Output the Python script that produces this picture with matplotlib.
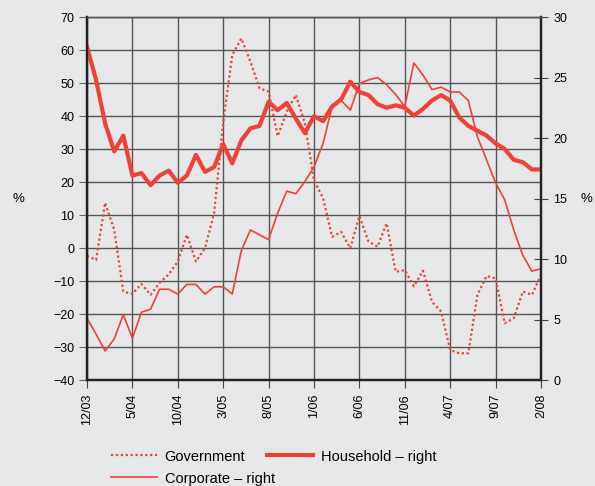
import matplotlib
matplotlib.use("Agg")
import matplotlib.pyplot as plt

plt.rcParams["font.family"] = ["Liberation Sans", "DejaVu Sans"]

# monthly, 12/03 .. 2/08
months = list(range(51))
tick_pos = list(range(0, 51, 5))
tick_labels = ["12/03", "5/04", "10/04", "3/05", "8/05", "1/06",
               "6/06", "11/06", "4/07", "9/07", "2/08"]

government = [-2.4, -3.6, 13.7, 5.5, -13.2, -13.9, -10.9, -14.2, -10.5, -8.0,
              -4.1, 4.0, -4.1, 0.0, 10.5, 38.0, 58.5, 63.5, 56.5, 48.4,
              47.4, 33.9, 41.3, 46.4, 37.8, 20.5, 15.1, 3.4, 4.9, -0.1,
              9.7, 2.0, 0.4, 7.5, -7.2, -6.7, -11.6, -6.9, -16.3, -19.3,
              -30.9, -31.9, -31.9, -14.2, -8.5, -9.2, -22.8, -21.3, -13.2, -14.2,
              -8.2]

household = [27.55, 24.8, 21.2, 18.9, 20.2, 16.9, 17.1, 16.1, 16.9, 17.3,
             16.3, 16.9, 18.6, 17.2, 17.6, 19.5, 17.9, 19.8, 20.8, 21.0,
             23.0, 22.3, 22.9, 21.6, 20.4, 21.8, 21.4, 22.6, 23.2, 24.65,
             23.8, 23.55, 22.8, 22.5, 22.7, 22.5, 21.85, 22.4, 23.1, 23.55,
             23.1, 21.7, 21.0, 20.6, 20.2, 19.55, 19.1, 18.2, 18.0, 17.4,
             17.4]

corporate = [5.1, 3.8, 2.4, 3.4, 5.4, 3.45, 5.6, 5.85, 7.5, 7.5,
             7.1, 7.9, 7.9, 7.1, 7.7, 7.7, 7.1, 10.7, 12.4, 12.0,
             11.6, 13.8, 15.6, 15.4, 16.4, 17.6, 19.55, 22.6, 23.1, 22.3,
             24.5, 24.8, 25.0, 24.4, 23.6, 22.6, 26.2, 25.2, 24.0, 24.2,
             23.8, 23.8, 23.1, 20.1, 18.2, 16.3, 14.9, 12.4, 10.3, 9.0,
             9.2]

bg = "#e6e7e8"
red = "#ef4136"

fig = plt.figure(figsize=(5.95, 4.86), dpi=100, facecolor=bg)
ax = fig.add_axes([0.1462, 0.2181, 0.763, 0.7469], facecolor=bg)
ax2 = ax.twinx()

g, = ax.plot(months, government, color=red, lw=1.6, ls=(0, (1, 1.2)),
             label="Government")
h, = ax2.plot(months, household, color=red, lw=3.0, label="Household \u2013 right")
c, = ax2.plot(months, corporate, color=red, lw=1.2, label="Corporate \u2013 right")

ax.set_xlim(0, 50)
ax.set_ylim(-40, 70)
ax.set_yticks(range(-40, 71, 10))
ax2.set_ylim(0, 30)
ax2.set_yticks(range(0, 31, 5))
ax.set_xticks(tick_pos)
ax.set_xticklabels(tick_labels, rotation=90)

ax.grid(True, color="#555555", lw=1.0)
ax.set_axisbelow(True)

for a in (ax, ax2):
    for s in a.spines.values():
        s.set_color("#222222")
        s.set_linewidth(1.6)
    a.spines["top"].set_color("#555555")
    a.spines["top"].set_linewidth(1.0)

ax.tick_params(axis="y", direction="out", length=6, color="#666666",
               labelsize=9, pad=3)
ax.tick_params(axis="x", direction="out", length=6, color="#444444",
               labelsize=9, pad=4)
ax2.tick_params(axis="y", direction="inout", length=10, color="#444444",
                labelsize=9, pad=4)

ax.set_ylabel("%", rotation=0, fontsize=9.5, labelpad=25, va="center")
ax2.set_ylabel("%", rotation=0, fontsize=9.5, labelpad=14, va="center")

fig.legend([g, c, h], [g.get_label(), c.get_label(), h.get_label()],
           loc="center", bbox_to_anchor=(0.46, 0.038), ncol=2, frameon=False,
           fontsize=10.5, handlelength=3.1, columnspacing=-0.5,
           labelspacing=0.55, handletextpad=0.55)

fig.savefig("out.png", dpi=100, facecolor=bg)
